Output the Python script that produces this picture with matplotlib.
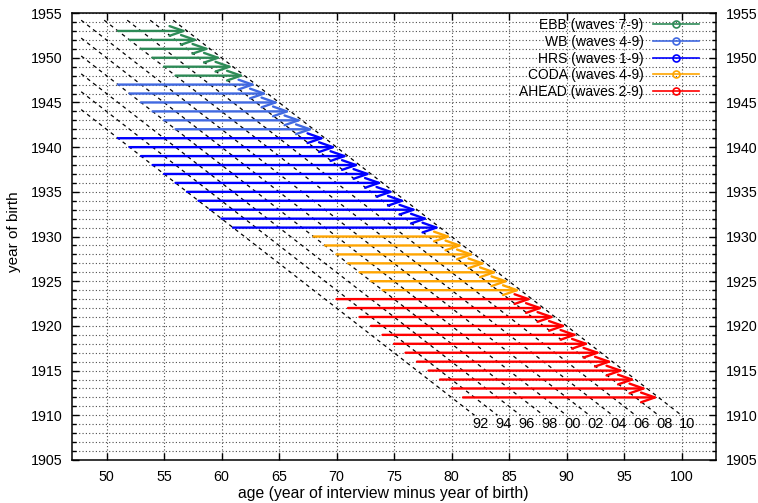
import matplotlib
matplotlib.use("Agg")
import matplotlib.pyplot as plt
from matplotlib.lines import Line2D
from matplotlib.ticker import MultipleLocator

plt.rcParams['font.family'] = ['Liberation Sans', 'DejaVu Sans']
plt.rcParams['font.size'] = 10

# study cohorts: birth years and the year each study started interviewing them
studies = ["EBB (waves 7-9)", "WB (waves 4-9)", "HRS (waves 1-9)",
           "CODA (waves 4-9)", "AHEAD (waves 2-9)"]
colors = ["#2e8b57", "#4169e1", "#0000ff", "#ffa500", "#ff0000"]

ebb_births = [1948, 1949, 1950, 1951, 1952, 1953]
wb_births = [1942, 1943, 1944, 1945, 1946, 1947]
hrs_births = [1931, 1932, 1933, 1934, 1935, 1936, 1937, 1938, 1939, 1940, 1941]
coda_births = [1924, 1925, 1926, 1927, 1928, 1929, 1930]
ahead_births = [1912, 1913, 1914, 1915, 1916, 1917, 1918, 1919, 1920, 1921,
                1922, 1923]
births = [ebb_births, wb_births, hrs_births, coda_births, ahead_births]
start_years = [2004, 1998, 1992, 1998, 1993]
end_year = 2010

# interview years shown as diagonal lines (age = year - birth year)
interview_years = [1992, 1994, 1996, 1998, 2000, 2002, 2004, 2006, 2008, 2010]
year_labels = ["92", "94", "96", "98", "00", "02", "04", "06", "08", "10"]

fig = plt.figure(figsize=(7.58, 5.03), dpi=100)
ax = fig.add_axes([0.095, 0.0855, 0.8496, 0.8885])

# diagonal dashed lines for interview years
for yr, lab in zip(interview_years, year_labels):
    b_top = min(1954.2, yr - 47.8)
    ax.plot([yr - b_top, yr - 1910], [b_top, 1910], color="black",
            linestyle=(0, (3, 3)), linewidth=0.9, zorder=2)
    ax.text(yr - 1910 + 0.5, 1909, lab, ha="center", va="center", fontsize=10.5)

# cohort arrows
for bl, sy, col in zip(births, start_years, colors):
    for b in bl:
        ax.annotate("", xy=(end_year - b, b), xytext=(sy - b, b),
                    arrowprops=dict(arrowstyle="->,head_length=1.0,head_width=0.35",
                                    color=col, lw=1.7, shrinkA=0, shrinkB=0,
                                    mutation_scale=10),
                    zorder=3)

ax.set_xlim(47, 103)
ax.set_ylim(1905, 1955)
ax.xaxis.set_major_locator(MultipleLocator(5))
ax.yaxis.set_major_locator(MultipleLocator(5))
ax.yaxis.set_minor_locator(MultipleLocator(1))
ax.grid(True, which="major", axis="x", color="0.3", linestyle=(0, (1, 2)), linewidth=0.8)
ax.grid(True, which="both", axis="y", color="0.3", linestyle=(0, (1, 2)), linewidth=0.8)
ax.set_axisbelow(True)

ax.tick_params(which="both", direction="in", top=True, right=True,
               labelright=True, width=1, labelsize=10.3)
ax.tick_params(which="major", length=5, pad=7)
ax.tick_params(which="minor", length=3)
for s in ax.spines.values():
    s.set_linewidth(1.1)

ax.set_xlabel("age (year of interview minus year of birth)", labelpad=1, fontsize=11.3)
ax.xaxis.set_label_coords(0.483, -0.058)
ax.set_ylabel("year of birth", labelpad=9, fontsize=11)
ax.yaxis.set_label_coords(-0.079, 0.51)

handles = [Line2D([], [], color=c, lw=1.2, marker="o", markersize=5,
                  markerfacecolor="none", markeredgewidth=1.2) for c in colors]
ax.legend(handles, studies, loc="upper right", frameon=False, markerfirst=False,
          handlelength=3.3, handletextpad=0.7, labelspacing=0.2,
          borderpad=0, borderaxespad=0, bbox_to_anchor=(1 - 17 / 644, 0.989),
          fontsize=10)

fig.savefig("out.png", dpi=100)
